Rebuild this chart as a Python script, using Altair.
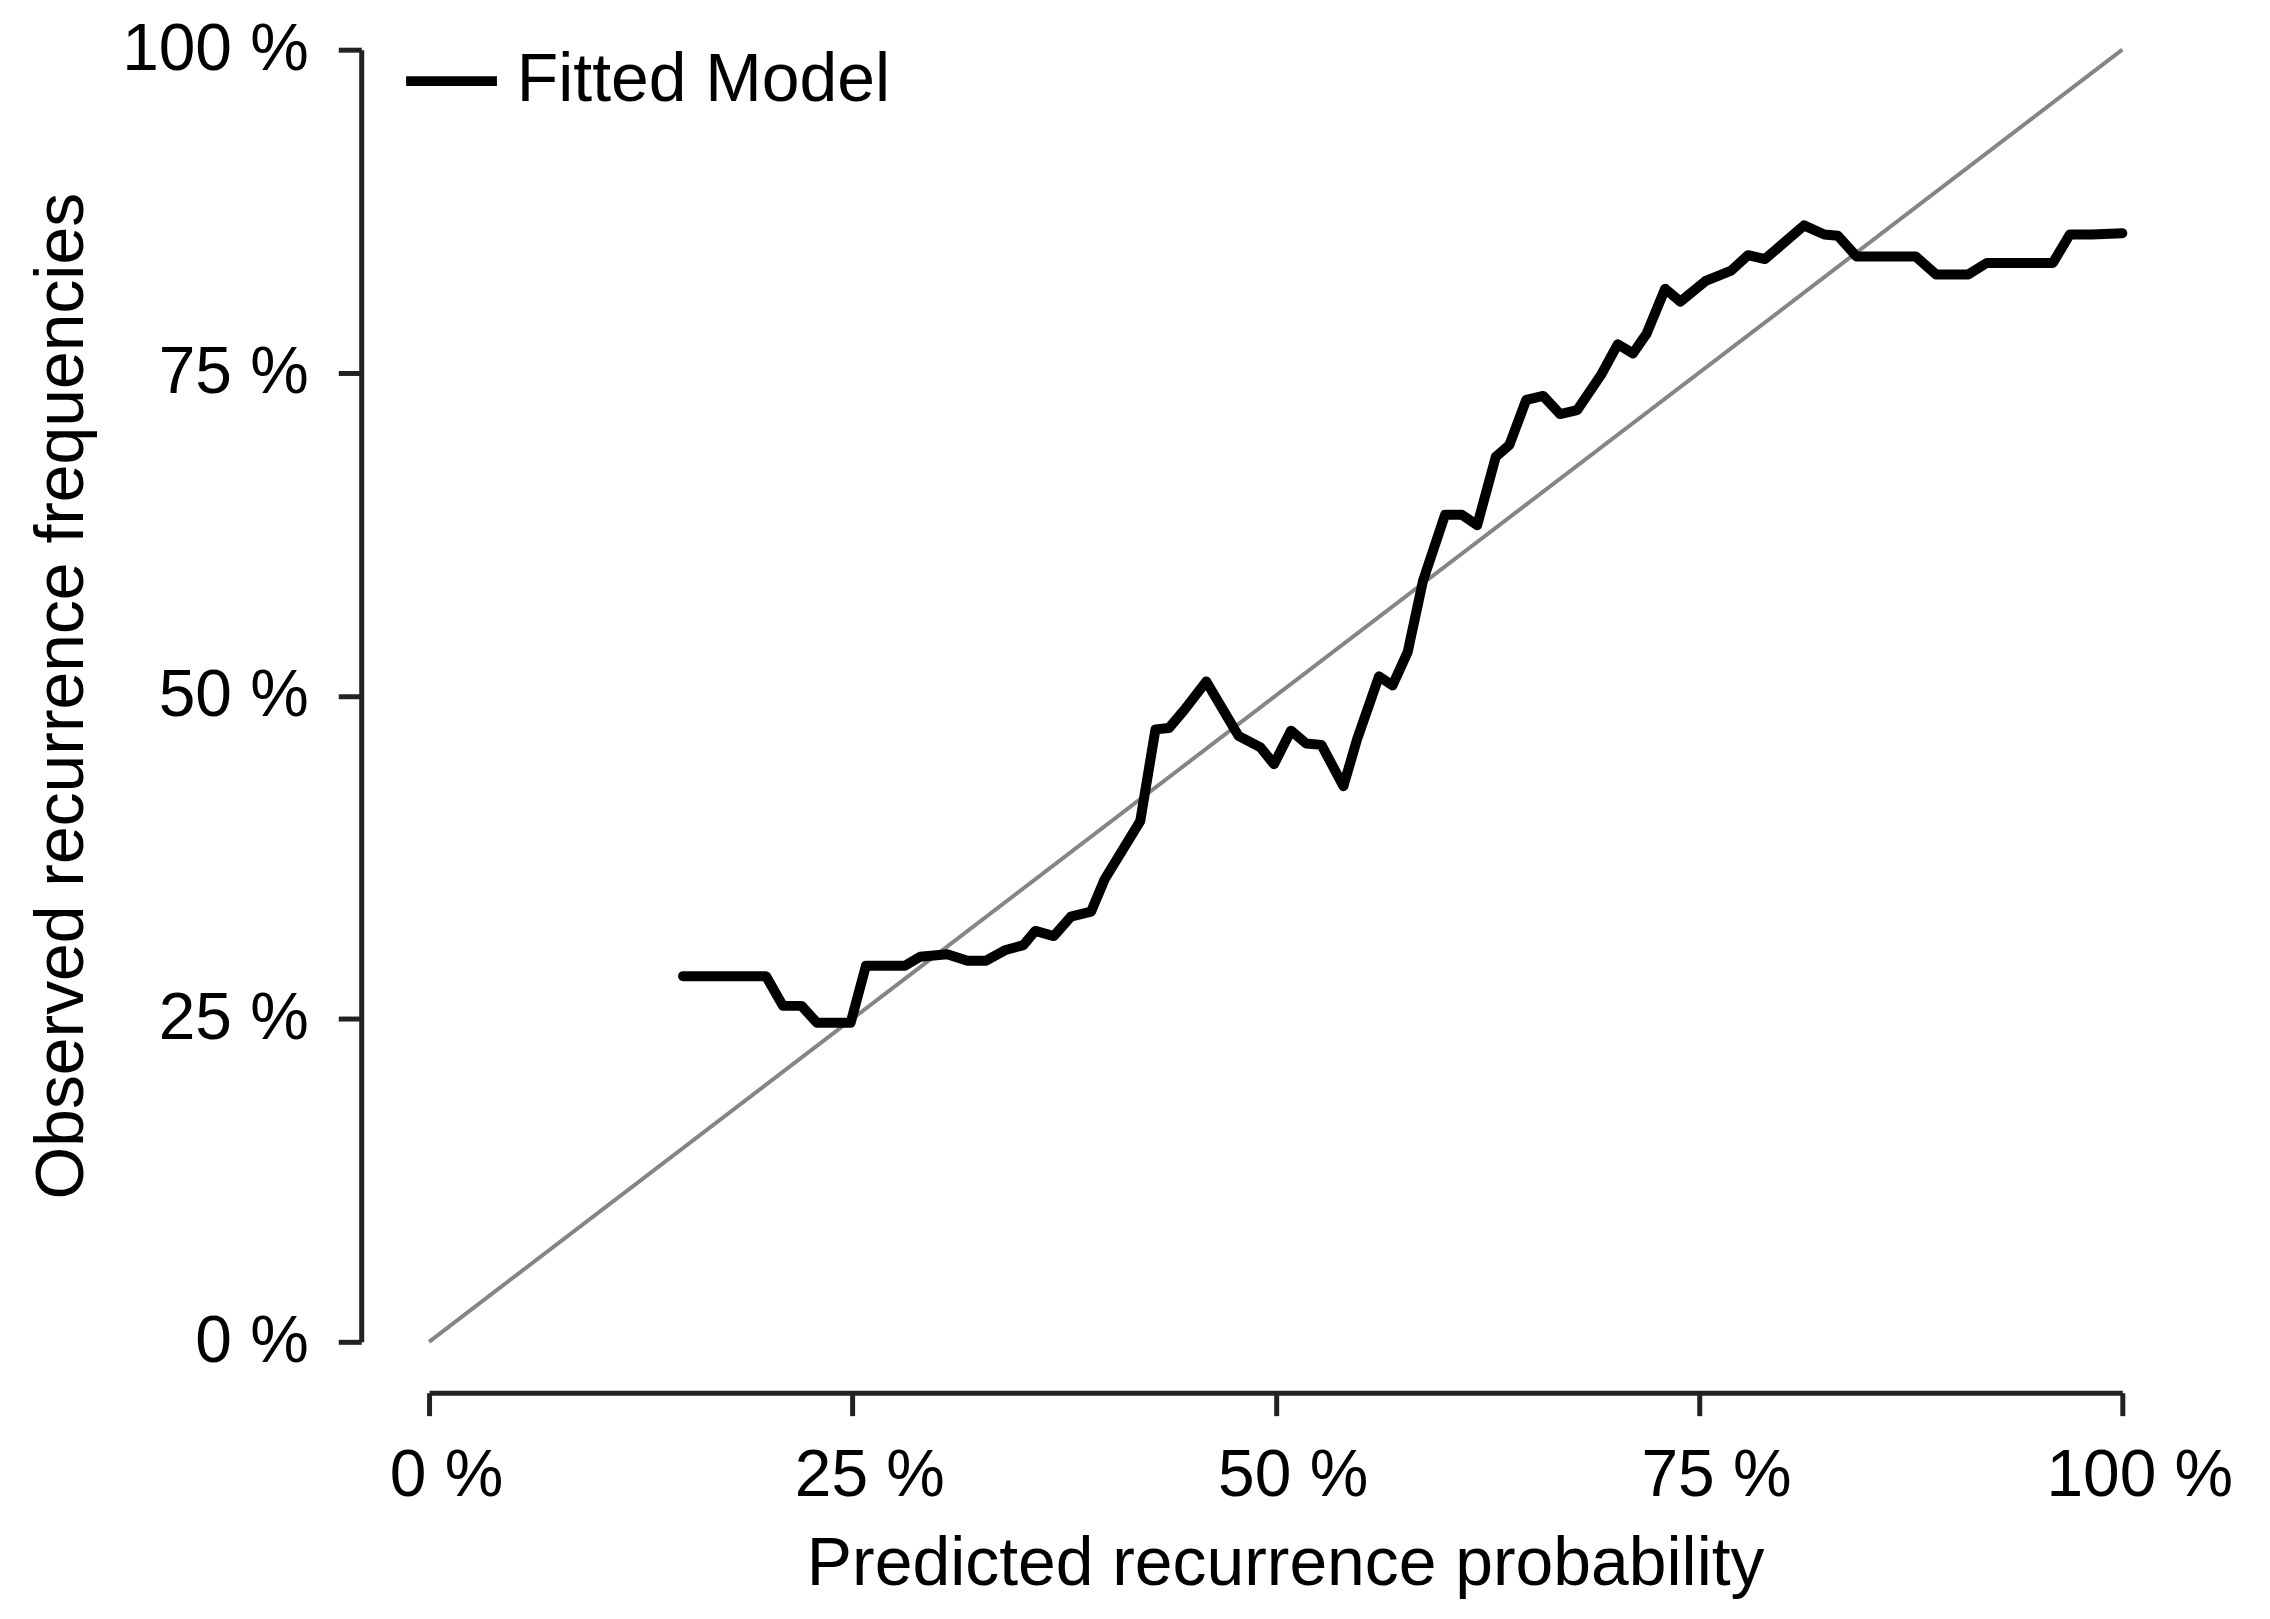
import altair as alt
import pandas as pd

# Fitted model calibration curve (predicted %, observed %)
pred = [15.0, 19.9, 20.9, 22.0, 22.9, 24.9, 25.8, 28.1, 29.0, 30.6, 31.8, 32.9, 34.0, 35.1,
        35.8, 36.9, 37.9, 39.1, 39.9, 42.0, 42.9, 43.7, 44.6, 45.9, 47.8, 49.1, 49.9,
        50.9, 51.8, 52.7, 54.0, 54.8, 56.1, 56.9, 57.8, 58.7, 60.0, 61.0, 61.9, 63.0,
        63.8, 64.8, 65.8, 66.8, 67.8, 69.2, 70.2, 71.1, 71.9, 73.0, 73.9, 75.4, 76.9,
        77.9, 78.9, 81.2, 82.4, 83.2, 84.3, 87.8, 89.0, 90.9, 92.0, 95.9, 96.9, 98.2, 100.0]
obs = [28.3, 28.3, 26.0, 26.0, 24.7, 24.7, 29.1, 29.1, 29.8, 30.0, 29.5, 29.5, 30.3, 30.7,
       31.8, 31.4, 32.9, 33.3, 35.8, 40.3, 47.4, 47.5, 48.9, 51.1, 46.9, 46.0, 44.7,
       47.3, 46.3, 46.2, 43.0, 46.6, 51.5, 50.8, 53.4, 58.9, 64.0, 64.0, 63.2, 68.5,
       69.4, 72.9, 73.2, 71.8, 72.1, 74.8, 77.2, 76.5, 78.0, 81.5, 80.5, 82.1, 82.9,
       84.1, 83.8, 86.4, 85.7, 85.6, 84.0, 84.0, 82.6, 82.6, 83.5, 83.5, 85.7, 85.7, 85.8]

ideal_x = [0, 100]
ideal_y = [0, 100]
ticks = [0, 25, 50, 75, 100]
series_name = "Fitted Model"

FONT = "Liberation Sans"
FS = 66
TFS = 68

curve = pd.DataFrame({"x": [p / 100 for p in pred], "y": [o / 100 for o in obs],
                      "series": series_name})
ideal = pd.DataFrame({"x": [v / 100 for v in ideal_x], "y": [v / 100 for v in ideal_y]})

xscale = alt.Scale(domain=[0, 1], nice=False, zero=False)
yscale = alt.Scale(domain=[0, 1], nice=False, zero=False)

xaxis = alt.Axis(
    values=[t / 100 for t in ticks],
    labelExpr="round(datum.value*100) + ' %'",
    offset=51, domainWidth=5, domainColor="#222222", tickWidth=5, tickColor="#222222",
    tickSize=23, grid=False, labelFontSize=FS, labelFont=FONT, labelColor="black",
    labelPadding=28, labelFlush=False, labelOverlap=False, labelLimit=0, labelOffset=17,
    title="Predicted recurrence probability", titleFont=FONT, titleFontSize=TFS,
    titleFontWeight="normal", titleColor="black", titlePadding=22,
    titleX=858, titleAlign="center",
)
yaxis = alt.Axis(
    values=[t / 100 for t in ticks],
    labelExpr="round(datum.value*100) + ' %'",
    offset=68, domainWidth=5, domainColor="#222222", tickWidth=5, tickColor="#222222",
    tickSize=23, grid=False, labelFontSize=FS, labelFont=FONT, labelColor="black",
    labelPadding=30, labelFlush=False, labelOverlap=False, labelAngle=0, labelLimit=0,
    title="Observed recurrence frequencies", titleFont=FONT, titleFontSize=TFS,
    titleFontWeight="normal", titleColor="black", titlePadding=65,
)

diag = alt.Chart(ideal).mark_line(color="#858585", strokeWidth=4).encode(
    x=alt.X("x:Q", scale=xscale, axis=xaxis),
    y=alt.Y("y:Q", scale=yscale, axis=yaxis),
)

fit = alt.Chart(curve).mark_line(strokeWidth=10, strokeJoin="round", strokeCap="round").encode(
    x=alt.X("x:Q", scale=xscale),
    y=alt.Y("y:Q", scale=yscale),
    color=alt.Color(
        "series:N",
        scale=alt.Scale(domain=[series_name], range=["black"]),
        legend=alt.Legend(
            title=None, orient="none", legendX=-28, legendY=-19, padding=0,
            symbolType="stroke", symbolSize=8281, symbolStrokeWidth=10,
            labelFont=FONT, labelFontSize=TFS, labelColor="black", labelOffset=15,
            labelLimit=0,
        ),
    ),
)

chart = alt.layer(diag, fit).properties(
    width=1697, height=1295,
    autosize=alt.AutoSizeParams(type="none"),
    padding={"left": 422, "top": 40, "right": 140, "bottom": 270},
    background="white",
).configure_view(strokeWidth=0, stroke="transparent")

chart.save("out.html", embed_options={"renderer": "svg", "actions": False})
